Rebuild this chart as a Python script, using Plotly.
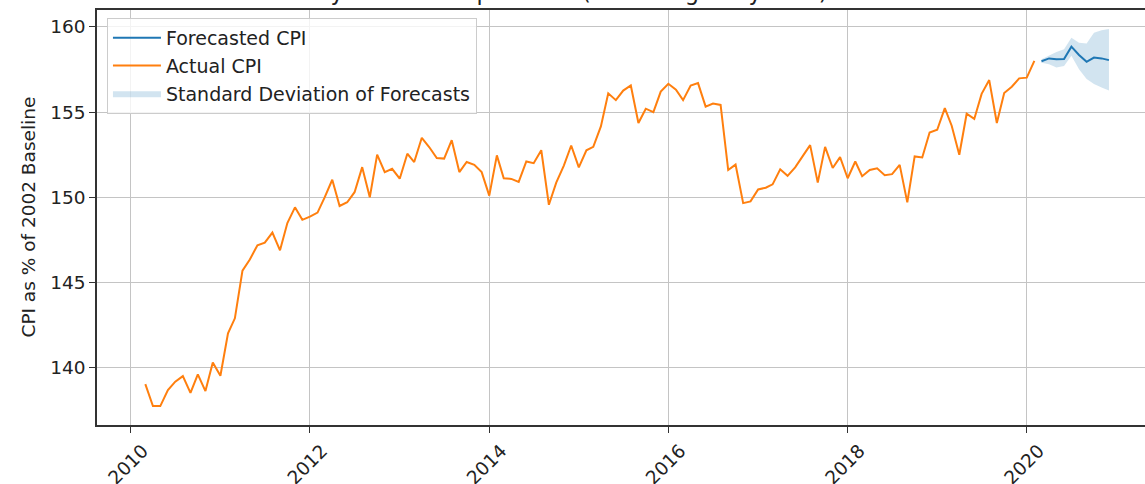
import pandas as pd
import plotly.graph_objects as go

# ---- data ----
actual_start = "2010-03-01"
actual_cpi = [
    139.04, 137.75, 137.75, 138.69, 139.18, 139.51, 138.53, 139.61, 138.63, 140.31,
    139.53, 142.02, 142.90, 145.70, 146.35, 147.19, 147.34, 147.93, 146.89, 148.49, 149.41, 148.68,
    148.87, 149.10, 150.00, 151.03, 149.49, 149.71, 150.30, 151.77, 150.00, 152.50, 151.48, 151.67,
    151.09, 152.56, 152.07, 153.49, 152.95, 152.30, 152.27, 153.35, 151.48, 152.07, 151.91, 151.48,
    150.10, 152.46, 151.12, 151.08, 150.90, 152.10, 152.00, 152.76, 149.56, 150.86, 151.86, 153.04,
    151.76, 152.76, 152.96, 154.16, 156.10, 155.70, 156.26, 156.56, 154.36, 155.20, 155.00, 156.20,
    156.66, 156.32, 155.70, 156.56, 156.70, 155.32, 155.50, 155.42, 151.60, 151.92, 149.66, 149.76,
    150.46, 150.56, 150.76, 151.64, 151.26, 151.76, 152.40, 153.06, 150.86, 152.96, 151.72, 152.36,
    151.12, 152.10, 151.24, 151.60, 151.70, 151.30, 151.36, 151.90, 149.70, 152.40, 152.34, 153.80,
    153.96, 155.23, 154.20, 152.50, 154.90, 154.60, 156.07, 156.88, 154.36, 156.12, 156.49, 156.98,
    157.02, 158.00,
]
forecast_start = "2020-03-01"
forecast_cpi = [157.98, 158.15, 158.10, 158.12, 158.84, 158.35, 157.95, 158.20, 158.15, 158.05]
forecast_upper = [158.10, 158.33, 158.53, 158.68, 159.36, 159.07, 159.03, 159.65, 159.80, 159.88]
forecast_lower = [157.90, 157.81, 157.62, 157.71, 158.30, 157.52, 156.94, 156.65, 156.45, 156.26]

y_ticks = [140, 145, 150, 155, 160]
title_text = "Bakery and cereal products (excluding baby food) - CPI Forecast"
y_label = "CPI as % of 2002 Baseline"

actual_dates = pd.date_range(actual_start, periods=len(actual_cpi), freq="MS")
forecast_dates = pd.date_range(forecast_start, periods=len(forecast_cpi), freq="MS")

BLUE = "#1f77b4"
ORANGE = "#ff7f0e"
FONT = "DejaVu Sans"
TXT = "#222222"

fig = go.Figure()

band_x = list(forecast_dates) + list(forecast_dates[::-1])
band_y = list(forecast_upper) + list(forecast_lower[::-1])
fig.add_trace(go.Scatter(
    x=band_x, y=band_y, fill="toself", fillcolor="rgba(31,119,180,0.2)",
    line=dict(width=0), mode="lines", name="Standard Deviation of Forecasts",
    legendrank=3, hoverinfo="skip",
))
fig.add_trace(go.Scatter(
    x=actual_dates, y=actual_cpi, mode="lines", name="Actual CPI",
    line=dict(color=ORANGE, width=2), legendrank=2,
))
fig.add_trace(go.Scatter(
    x=forecast_dates, y=forecast_cpi, mode="lines", name="Forecasted CPI",
    line=dict(color=BLUE, width=2), legendrank=1,
))

fig.update_layout(
    width=1145, height=484,
    margin=dict(l=97, r=0, t=10, b=59, autoexpand=False),
    paper_bgcolor="white", plot_bgcolor="white",
    font=dict(family=FONT, size=18.5, color=TXT),
    showlegend=True,
    legend=dict(
        x=0.0095, y=0.981, xanchor="left", yanchor="top",
        bgcolor="rgba(255,255,255,0.8)", bordercolor="#cccccc", borderwidth=1,
        font=dict(family=FONT, size=19, color=TXT),
        traceorder="normal", itemwidth=48,
    ),
    annotations=[
        dict(text=title_text, xref="paper", yref="paper", x=0.5057, y=1.0078,
             xanchor="center", yanchor="bottom", showarrow=False,
             font=dict(family=FONT, size=22.5, color=TXT)),
        dict(text=y_label, xref="paper", yref="paper", x=-0.0658, y=0.5,
             xanchor="center", yanchor="middle", textangle=-90, showarrow=False,
             font=dict(family=FONT, size=18.5, color=TXT)),
    ],
)

fig.update_xaxes(
    type="date", range=["2009-08-16", "2021-04-27"],
    tick0="2010-01-01", dtick="M24", tickformat="%Y", tickangle=-45,
    ticklabelshift=12, automargin=False,
    showgrid=True, gridcolor="#c4c4c4", gridwidth=1.3,
    showline=True, linecolor="#333333", linewidth=1.5, mirror=True,
    ticks="outside", ticklen=6, tickcolor="#333333", tickwidth=1.2,
    zeroline=False, tickfont=dict(family=FONT, size=18.5, color=TXT),
)
fig.update_yaxes(
    range=[136.64, 160.99], tickvals=y_ticks, automargin=False,
    showgrid=True, gridcolor="#c4c4c4", gridwidth=1.3,
    showline=True, linecolor="#333333", linewidth=1.5, mirror=False,
    ticks="outside", ticklen=6, tickcolor="#333333", tickwidth=1.2,
    zeroline=False, tickfont=dict(family=FONT, size=18.5, color=TXT),
)

# remove the default 8px body margin so the figure sits at the page origin
fig.write_html("out.html", config={"displayModeBar": False},
               post_script="document.body.style.margin='0';")
